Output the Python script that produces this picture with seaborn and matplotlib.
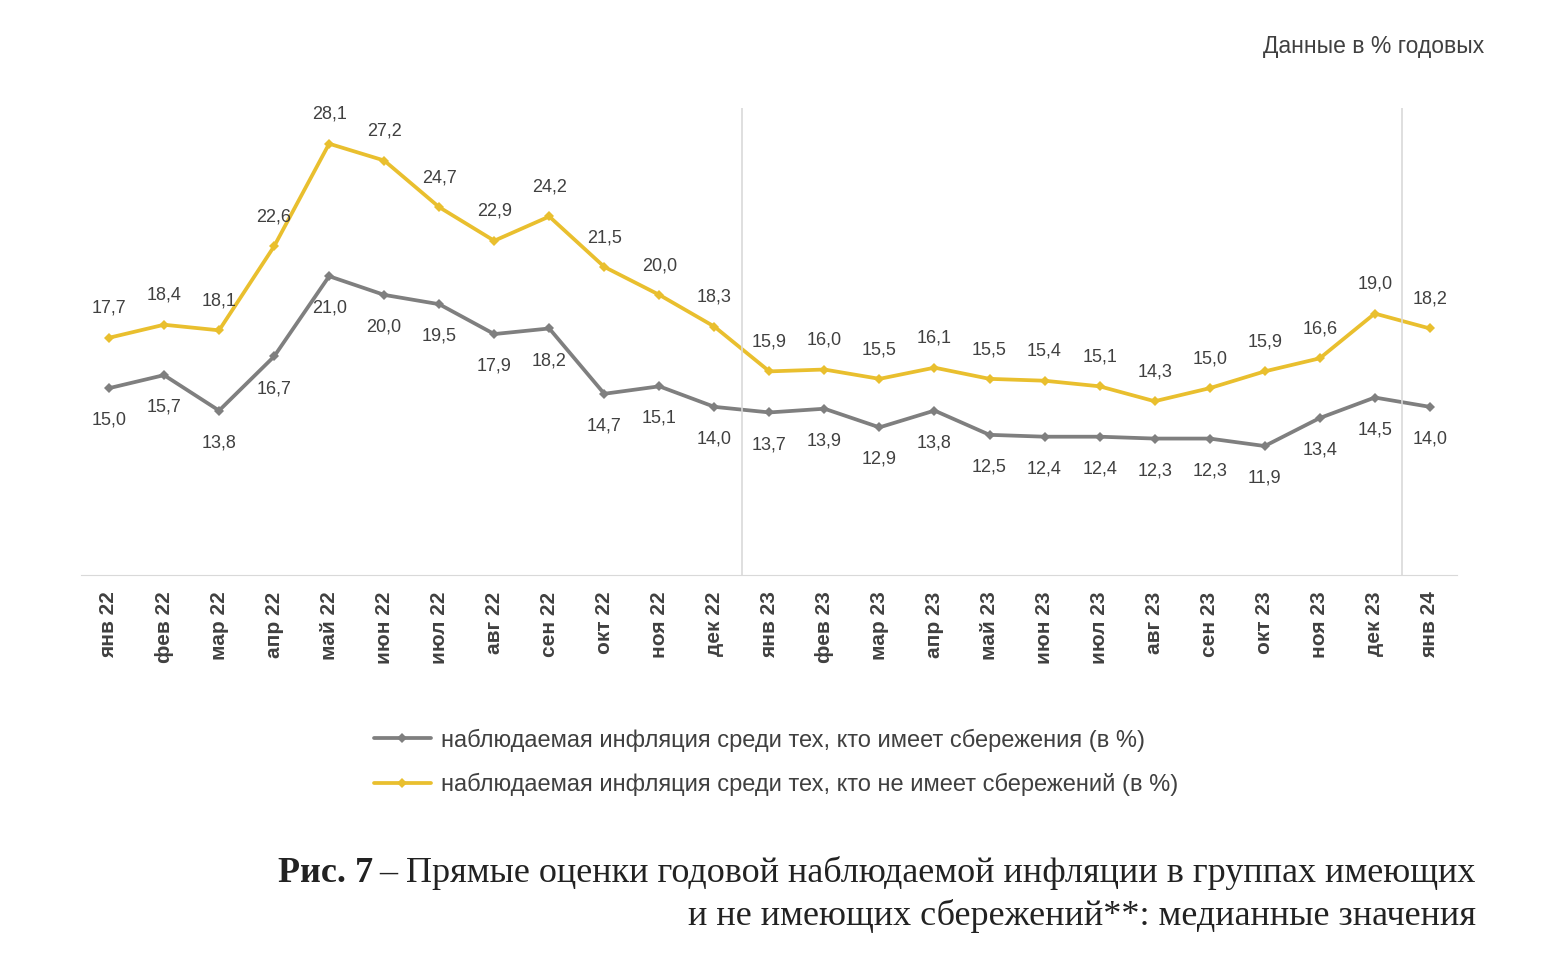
import numpy as np
import pandas as pd
import seaborn as sns
import matplotlib.pyplot as plt

sns.set_style("white")
plt.rcParams['font.family'] = ['Liberation Sans', 'DejaVu Sans']

months = ['янв', 'фев', 'мар', 'апр', 'май', 'июн', 'июл', 'авг', 'сен', 'окт', 'ноя', 'дек']
labels = [m + ' 22' for m in months] + [m + ' 23' for m in months] + ['янв 24']

with_savings = [15.0, 15.7, 13.8, 16.7, 21.0, 20.0, 19.5, 17.9, 18.2, 14.7, 15.1, 14.0,
                13.7, 13.9, 12.9, 13.8, 12.5, 12.4, 12.4, 12.3, 12.3, 11.9, 13.4, 14.5, 14.0]
no_savings = [17.7, 18.4, 18.1, 22.6, 28.1, 27.2, 24.7, 22.9, 24.2, 21.5, 20.0, 18.3,
              15.9, 16.0, 15.5, 16.1, 15.5, 15.4, 15.1, 14.3, 15.0, 15.9, 16.6, 19.0, 18.2]

name_with = 'наблюдаемая инфляция среди тех, кто имеет сбережения (в %)'
name_without = 'наблюдаемая инфляция среди тех, кто не имеет сбережений (в %)'

df = pd.DataFrame({
    'x': list(range(len(labels))) * 2,
    'value': with_savings + no_savings,
    'series': [name_with] * len(labels) + [name_without] * len(labels),
})

gray = '#7f7f7f'
yellow = '#e9bf2e'
palette = {name_with: gray, name_without: yellow}

fig = plt.figure(figsize=(15.67, 9.58), dpi=100)
ax = fig.add_axes([0.052, 0.40, 0.878, 0.487])

sns.lineplot(data=df, x='x', y='value', hue='series', palette=palette, ax=ax,
             marker='D', markersize=5, linewidth=2.7, markeredgewidth=0)

for i, v in enumerate(with_savings):
    ax.annotate(f'{v:.1f}'.replace('.', ','), (i, v), xytext=(0, -17), textcoords='offset points',
                ha='center', va='top', fontsize=13, color='#404040')
for i, v in enumerate(no_savings):
    ax.annotate(f'{v:.1f}'.replace('.', ','), (i, v), xytext=(0, 15), textcoords='offset points',
                ha='center', va='bottom', fontsize=13, color='#404040')

# separators between years
ax.axvline(11.5, color='#d9d9d9', linewidth=1.2)
ax.axvline(23.5, color='#d9d9d9', linewidth=1.2)

ax.set_xlim(-0.5, len(labels) - 0.5)
ax.set_ylim(5, 30)
ax.set_xticks(range(len(labels)))
ax.set_xticklabels(labels, rotation=90, fontsize=15, fontweight='bold', color='#404040')
ax.set_yticks([])
ax.set_xlabel('')
ax.set_ylabel('')
ax.tick_params(axis='x', length=0, pad=12)
for side in ['left', 'right', 'top']:
    ax.spines[side].set_visible(False)
ax.spines['bottom'].set_color('#d9d9d9')

leg = ax.legend(loc='upper center', bbox_to_anchor=(0.505, -0.284), frameon=False,
                fontsize=17, handlelength=2.4, handletextpad=0.45, labelspacing=0.9)
for t in leg.get_texts():
    t.set_color('#404040')

fig.text(0.947, 0.951, 'Данные в % годовых', ha='right', va='center', fontsize=16.5, color='#404040')

cap1 = '– Прямые оценки годовой наблюдаемой инфляции в группах имеющих'
cap2 = 'и не имеющих сбережений**: медианные значения'
t1 = fig.text(0.942, 0.0887, cap1, ha='right', va='center', fontsize=26,
              family='Liberation Serif', color='#222222')
fig.canvas.draw()
bb = t1.get_window_extent()
x0 = bb.x0 / fig.bbox.width
fig.text(x0 - 0.004, 0.0887, 'Рис. 7', ha='right', va='center', fontsize=26,
         family='Liberation Serif', fontweight='bold', color='#222222')
fig.text(0.942, 0.0438, cap2, ha='right', va='center', fontsize=26,
         family='Liberation Serif', color='#222222')

plt.savefig('out.png', dpi=100)
